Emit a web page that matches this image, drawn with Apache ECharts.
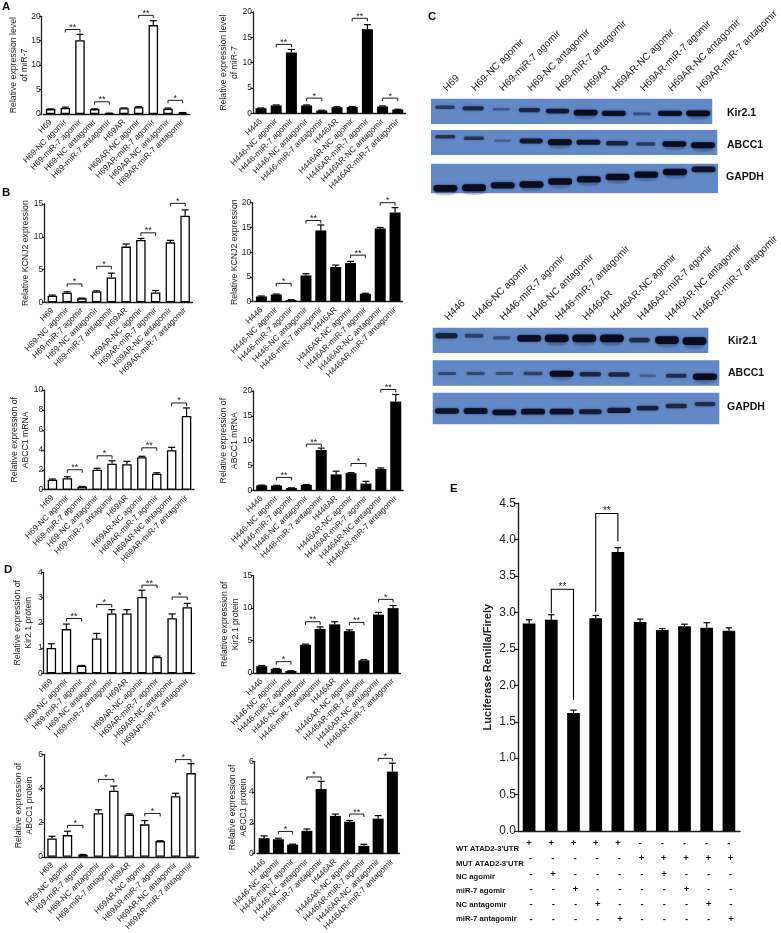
<!DOCTYPE html>
<html><head><meta charset="utf-8">
<style>html,body{margin:0;padding:0;background:#fff}#c{width:781px;height:933px;filter:blur(0.3px)}</style>
<script src="https://cdn.jsdelivr.net/npm/echarts@6/dist/echarts.min.js"></script>
</head><body><div id="c"></div>
<script>
// ---------- categories ----------
const catH69 = ['H69','H69-NC agomir','H69-miR-7 agomir','H69-NC antagomir','H69-miR-7 antagomir','H69AR','H69AR-NC agomir','H69AR-miR-7 agomir','H69AR-NC antagomir','H69AR-miR-7 antagomir'];
const catH446 = ['H446','H446-NC agomir','H446-miR-7 agomir','H446-NC antagomir','H446-miR-7 antagomir','H446AR','H446AR-NC agomir','H446AR-miR-7 agomir','H446AR-NC antagomir','H446AR-miR-7 antagomir'];
const catE = ['1','2','3','4','5','6','7','8','9','10'];
// ---------- values (mean) and errors ----------
const a1Val=[1,1.25,15.1,1.0,0.15,1.2,1.4,18.2,1.1,0.25];
const a1Err=[.05,.15,1.2,.05,.03,.05,.1,.9,.1,.05];
const a2Val=[1,1.55,12,1.55,0.55,1.2,1.25,16.6,1.35,0.75];
const a2Err=[.05,.1,.6,.1,.05,.1,.1,.9,.1,.05];
const b1Val=[1,1.45,.6,1.65,3.8,8.5,9.5,1.5,9.15,13.2];
const b1Err=[.1,.15,.05,.1,.65,.4,.25,.3,.3,.9];
const b2Val=[1.05,1.45,.35,5.3,14.4,7,7.8,1.6,14.8,18];
const b2Err=[.1,.1,.05,.35,1.1,.4,.35,.1,.2,1];
const b3Val=[1,1.15,.3,2,2.6,2.55,3.25,1.6,3.95,7.4];
const b3Err=[.07,.15,.03,.15,.3,.3,.1,.1,.3,.8];
const b4Val=[1,.95,.45,1.1,8.1,3.2,3.45,1.35,4.3,17.9];
const b4Err=[.05,.05,.05,.05,.4,.65,.1,.45,.2,1.4];
const d1Val=[1,1.75,.3,1.38,2.37,2.37,3.02,.65,2.18,2.62];
const d1Err=[.17,.2,.01,.2,.15,.15,.27,.03,.17,.15];
const d2Val=[1.05,.65,.3,4.35,6.8,7.5,6.45,1.95,9,10];
const d2Err=[.1,.05,.05,.1,.3,.4,.2,.1,.35,.4];
const d3Val=[1.07,1.27,.12,2.55,3.87,2.47,1.9,.92,3.55,4.9];
const d3Err=[.13,.23,.02,.2,.27,.05,.22,.02,.17,.55];
const d4Val=[1,.93,.58,1.48,4.2,2.45,2.07,.5,2.27,5.33];
const d4Err=[.15,.07,.03,.12,.5,.12,.08,.1,.2,.55];
const eVal=[2.85,2.9,1.62,2.92,3.83,2.87,2.76,2.81,2.79,2.75];
const eErr=[.05,.07,.04,.04,.06,.04,.02,.03,.07,.04];
// ---------- significance brackets: [from, to, level, label] ----------
const a1Sig=[[1,2,17.3,'**'],[3,4,2.5,'**'],[6,7,20.2,'**'],[8,9,2.8,'*']];
const a2Sig=[[1,2,13.6,'**'],[3,4,3,'*'],[6,7,18.75,'**'],[8,9,3,'*']];
const b1Sig=[[1,2,2.8,'*'],[3,4,5.5,'*'],[6,7,10.6,'**'],[8,9,15.1,'*']];
const b2Sig=[[1,2,3.7,'*'],[3,4,16.4,'**'],[6,7,9.4,'**'],[8,9,20,'*']];
const b3Sig=[[1,2,2,'**'],[3,4,3.4,'*'],[6,7,4.2,'**'],[8,9,8.7,'*']];
const b4Sig=[[1,2,2.6,'**'],[3,4,9.3,'**'],[6,7,5.4,'*'],[8,9,20.3,'**']];
const d1Sig=[[1,2,2.17,'**'],[3,4,2.72,'*'],[6,7,3.49,'**'],[8,9,3.02,'*']];
const d2Sig=[[1,2,1.75,'*'],[3,4,7.9,'**'],[6,7,7.8,'**'],[8,9,11.35,'*']];
const d3Sig=[[1,2,1.84,'*'],[3,4,4.53,'*'],[6,7,2.54,'*'],[8,9,5.69,'*']];
const d4Sig=[[1,2,1.44,'*'],[3,4,4.98,'*'],[6,7,2.57,'**'],[8,9,6.19,'*']];
const eSig=[[1,2,3.32,'**',2.99,1.8],[3,4,4.36,'**',3.01,3.98]];
// ---------- E table ----------
const tableRows=['WT ATAD2-3\'UTR','MUT ATAD2-3\'UTR','NC agomir','miR-7 agomir','NC antagomir','miR-7 antagomir'];
const tableMarks=[
 ['+','+','+','+','+','-','-','-','-','-'],
 ['-','-','-','-','-','+','+','+','+','+'],
 ['-','+','-','-','-','-','+','-','-','-'],
 ['-','-','+','-','-','-','-','+','-','-'],
 ['-','-','-','+','-','-','-','-','+','-'],
 ['-','-','-','-','+','-','-','-','-','+']];
// ---------- western blots: band intensity and vertical place (0 top..100 bottom) ----------
const kirH69Int=[.45,.6,.25,.6,.75,.95,.85,.3,.85,.9];
const kirH69Pos=[34,38,42,45,49,55,58,60,58,58];
const abcH69Int=[.5,.5,.2,.75,1,.8,.65,.45,.9,1];
const abcH69Pos=[27,33,43,44,49,49,53,56,56,61];
const gapH69Int=[.95,1,.85,.9,.9,.9,.9,.9,.9,.8];
const gapH69Pos=[83,81,73,70,60,53,45,37,28,19];
const kirH446Int=[.65,.4,.3,.85,1,1,1,.55,1,1];
const kirH446Pos=[32,32,40,42,42,42,42,49,49,53];
const abcH446Int=[.35,.35,.3,.4,.9,.6,.6,.2,.55,1];
const abcH446Pos=[52,52,52,52,53,55,56,61,61,65];
const gapH446Int=[.8,.85,.85,.85,.85,.7,.75,.65,.6,.55];
const gapH446Pos=[58,58,62,60,60,60,56,49,42,36];

const ink='#1c1c1c', FONT='"Liberation Sans",Arial,sans-serif';
// panel layout
const panels=[
 {cat:catH69, v:a1Val,e:a1Err,s:a1Sig,ax:41.7,l:43.3,w:146.7,t:16.3,b:114,max:20,iv:5,fill:'#fff',name:'Relative expression level\nof miR-7',gap:12.2},
 {cat:catH446,v:a2Val,e:a2Err,s:a2Sig,ax:253,l:253.4,w:152,t:12,b:113.3,max:20,iv:5,fill:'#000',name:'Relative expression level\nof miR-7',gap:13.5},
 {cat:catH69, v:b1Val,e:b1Err,s:b1Sig,ax:44.3,l:45,w:147.5,t:204,b:302.3,max:15,iv:5,fill:'#fff',name:'Relative KCNJ2 expression',gap:13.8},
 {cat:catH446,v:b2Val,e:b2Err,s:b2Sig,ax:252.3,l:254,w:148.5,t:202.7,b:301.7,max:20,iv:5,fill:'#000',name:'Relative KCNJ2 expression',gap:12.8},
 {cat:catH69, v:b3Val,e:b3Err,s:b3Sig,ax:44.3,l:45,w:149,t:390,b:489.7,max:10,iv:2,fill:'#fff',name:'Relative expression of\nABCC1 mRNA',gap:13.8},
 {cat:catH446,v:b4Val,e:b4Err,s:b4Sig,ax:253.3,l:254.2,w:149,t:391,b:490.3,max:20,iv:5,fill:'#000',name:'Relative expression of\nABCC1 mRNA',gap:13.8},
 {cat:catH69, v:d1Val,e:d1Err,s:d1Sig,ax:43.7,l:43.8,w:151,t:572.3,b:673.3,max:4,iv:1,fill:'#fff',name:'Relative expression of\nKir2.1 protein',gap:9.9},
 {cat:catH446,v:d2Val,e:d2Err,s:d2Sig,ax:253.3,l:254.4,w:146,t:575.7,b:673,max:15,iv:5,fill:'#000',name:'Relative expression of\nKir2.1 protein',gap:12.8},
 {cat:catH69, v:d3Val,e:d3Err,s:d3Sig,ax:44,l:44.3,w:154.5,t:754.3,b:857.7,max:6,iv:2,fill:'#fff',name:'Relative expression of\nABCC1 protein',gap:9.5},
 {cat:catH446,v:d4Val,e:d4Err,s:d4Sig,ax:254.7,l:257,w:142.5,t:761.3,b:857,max:6,iv:2,fill:'#000',name:'Relative expression of\nABCC1 protein',gap:6.2},
 {cat:catE,   v:eVal,e:eErr,s:eSig,ax:518,l:518,w:222,t:503.3,b:831,max:4.5,iv:.5,fill:'#000',name:'Luciferase Renilla/Firely',gap:24,big:true}
];
const blots=[
 {int:kirH69Int,pos:kirH69Pos,l:431,w:286.3,t:98.7,b:124,thick:2.3,labels:catH69},
 {int:abcH69Int,pos:abcH69Pos,l:431,w:286.3,t:130,b:155,thick:2.3},
 {int:gapH69Int,pos:gapH69Pos,l:431,w:287,t:163.7,b:193.3,thick:2.8},
 {int:kirH446Int,pos:kirH446Pos,l:432.7,w:286.6,t:327.7,b:353,thick:3.2,labels:catH446},
 {int:abcH446Int,pos:abcH446Pos,l:432.7,w:286.6,t:360.3,b:385.7,thick:2.5},
 {int:gapH446Int,pos:gapH446Pos,l:432.7,w:286.6,t:392.7,b:424.3,thick:2.6}
];

const grid=[],xAxis=[],yAxis=[],series=[];
panels.forEach((p,i)=>{
 const fs=p.big?12:8.5;
 grid.push({left:p.l,top:p.t,width:p.w,height:p.b-p.t});
 xAxis.push({gridIndex:i,type:'category',data:p.cat,
  axisLine:{lineStyle:{color:ink,width:p.big?1.4:1.3}},
  axisTick:{alignWithLabel:true,length:p.big?4:3,lineStyle:{color:ink,width:1.2}},
  axisLabel:p.big?{show:false}:{rotate:45,interval:0,fontSize:8.3,color:'#222',fontFamily:FONT,margin:7}});
 yAxis.push({gridIndex:i,type:'value',min:0,max:p.max,interval:p.iv,offset:p.l-p.ax,splitLine:{show:false},
  axisLine:{show:true,lineStyle:{color:ink,width:p.big?1.4:1.3}},
  axisTick:{show:true,length:p.big?4:2.5,lineStyle:{color:ink,width:1.2}},
  axisLabel:{fontSize:fs,color:'#222',fontFamily:FONT,margin:p.big?2:1,formatter:p.big?(v=>v.toFixed(1)):undefined},
  name:p.name,nameLocation:'middle',nameGap:p.gap,nameMoveOverlap:false,
  nameTextStyle:{fontSize:p.big?11:8.7,lineHeight:p.big?12:10.5,color:'#222',fontFamily:FONT,fontWeight:p.big?'bold':'normal'}});
 series.push({type:'bar',xAxisIndex:i,yAxisIndex:i,data:p.v,barWidth:p.big?12.7:(p.fill==='#fff'?9.5:11),
  itemStyle:{color:p.fill,borderColor:'#000',borderWidth:p.fill==='#fff'?1.3:0}});
 series.push({type:'custom',xAxisIndex:i,yAxisIndex:i,data:p.v.map((v,k)=>[k,v,v+p.e[k]]),z:1,
  renderItem:(params,api)=>{
   const a=api.coord([api.value(0),api.value(1)]),b=api.coord([api.value(0),api.value(2)]),c=p.big?3.2:3.5;
   const st={stroke:'#000',lineWidth:1.2,fill:null};
   return {type:'group',children:[
    {type:'line',shape:{x1:a[0],y1:a[1],x2:b[0],y2:b[1]},style:st},
    {type:'line',shape:{x1:b[0]-c,y1:b[1],x2:b[0]+c,y2:b[1]},style:st}]};
  }});
 series.push({type:'custom',xAxisIndex:i,yAxisIndex:i,data:p.s.map(s=>[s[0],s[2]]),z:3,
  renderItem:(params,api)=>{
   const s=p.s[params.dataIndex];
   const A=api.coord([s[0],s[2]]),B=api.coord([s[1],s[2]]);
   const yA=s[4]!==undefined?api.coord([s[0],s[4]])[1]:A[1]+3,yB=s[5]!==undefined?api.coord([s[1],s[5]])[1]:A[1]+3;
   return {type:'group',children:[
    {type:'polyline',shape:{points:[[A[0],yA],[A[0],A[1]],[B[0],A[1]],[B[0],yB]]},style:{stroke:'#000',lineWidth:p.big?1.1:.9,fill:null}},
    {type:'text',style:{text:s[3],x:(A[0]+B[0])/2,y:A[1]-2,textAlign:'center',textVerticalAlign:'middle',fontSize:p.big?10:9,fontFamily:FONT,fill:'#222'}}]};
  }});
});
// E table marks through a hidden grid sharing E's column scale
{
 const i=grid.length, pe=panels[10], rowDx=[0,1.5,1.8,2,2,2];
 grid.push({left:pe.l,top:836,width:pe.w,height:91});
 xAxis.push({gridIndex:i,type:'category',data:catE,show:false});
 yAxis.push({gridIndex:i,type:'category',inverse:true,data:tableRows,show:false});
 const pts=[];tableMarks.forEach((r,ri)=>r.forEach((m,ci)=>pts.push([ci,ri])));
 series.push({type:'custom',xAxisIndex:i,yAxisIndex:i,data:pts,
  renderItem:(params,api)=>{
   const c=api.value(0),r=api.value(1),q=api.coord([c,r]);
   return {type:'text',style:{text:tableMarks[r][c],x:q[0]+rowDx[r],y:q[1],textAlign:'center',textVerticalAlign:'middle',fontSize:9.5,fontWeight:'bold',fontFamily:FONT,fill:'#111'}};
  }});
}
// blots
blots.forEach(bl=>{
 const i=grid.length;
 grid.push({left:bl.l,top:bl.t,width:bl.w,height:bl.b-bl.t,show:true,backgroundColor:'#6289c6',borderWidth:0});
 const cats=bl.labels||catH69;
 xAxis.push({gridIndex:i,type:'category',position:'top',data:cats,show:!!bl.labels,axisLine:{show:false},axisTick:{show:false},
  axisLabel:{rotate:45,interval:0,fontSize:10,color:'#222',fontFamily:FONT,margin:9}});
 yAxis.push({gridIndex:i,type:'value',inverse:true,min:0,max:100,show:false});
 series.push({type:'custom',xAxisIndex:i,yAxisIndex:i,data:bl.pos.map((v,k)=>[k,v]),
  renderItem:(params,api)=>{
   const q=api.coord([api.value(0),api.value(1)]),n=bl.int[params.dataIndex];
   const rx=7+5*Math.min(1,n*1.25),ry=.7+bl.thick*n;
   const kids=[{type:'rect',shape:{x:q[0]-rx,y:q[1]-ry,width:2*rx,height:2*ry,r:ry},
     style:{fill:'rgba(8,12,30,'+Math.min(1,n*1.05+.05)+')',shadowBlur:2.5,shadowColor:'rgba(10,20,60,.6)'}}];
   if(n>.85) kids.unshift({type:'ellipse',shape:{cx:q[0],cy:q[1]+ry+1.5,rx:rx*.85,ry:2.2},style:{fill:'rgba(30,45,90,.2)',shadowBlur:3,shadowColor:'rgba(30,45,90,.25)'}});
   return {type:'group',children:kids};
  }});
});
const T=(t,x,y,fs,bold,extra)=>Object.assign({type:'text',x:x,y:y,style:{text:t,fontSize:fs,fontWeight:bold?'bold':'normal',fontFamily:FONT,fill:'#111',textVerticalAlign:'middle'}},extra||{});
const graphic=[
 T('A',2,7,11.5,1),T('B',2,193,11.5,1),T('D',4,570,11.5,1),T('C',428,17,11.5,1),T('E',450,489,11.5,1),
 T('Kir2.1',727,113.3,10.5,1),T('ABCC1',727,145.3,10.5,1),T('GAPDH',726,177.3,10.5,1),
 T('Kir2.1',728,340.7,10.5,1),T('ABCC1',728,373.3,10.5,1),T('GAPDH',727,407,10.5,1),
 T(tableRows[0],456,849.3,7.7,1),T(tableRows[1],456,863.7,7.7,1),T(tableRows[2],456,877,7.7,1),
 T(tableRows[3],456,891,7.7,1),T(tableRows[4],456,905.3,7.7,1),T(tableRows[5],456,919,7.7,1)
];
const chart=echarts.init(document.getElementById('c'),null,{renderer:'canvas',width:781,height:933});
chart.setOption({animation:false,backgroundColor:'#fff',grid,xAxis,yAxis,series,graphic:{elements:graphic}});
</script></body></html>
